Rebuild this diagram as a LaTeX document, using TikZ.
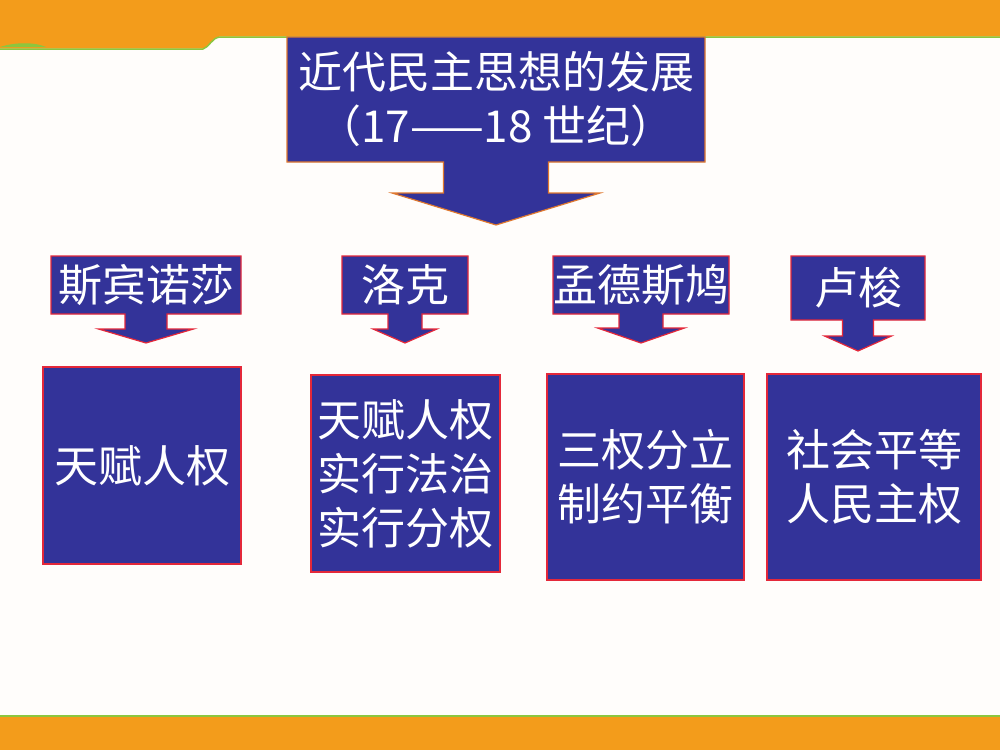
\documentclass[tikz,border=0pt]{standalone}
\usepackage{fontspec}
\setmainfont{Noto Sans CJK SC}
\usetikzlibrary{calc,backgrounds}

\definecolor{bandorange}{HTML}{F39C1B}
\definecolor{bandgreen}{HTML}{8CC63E}
\definecolor{boxblue}{HTML}{333399}
\definecolor{boxred}{HTML}{E4283A}
\definecolor{titleedge}{HTML}{E0782E}
\definecolor{pagewhite}{HTML}{FFFDFB}

\tikzset{
  whitetext/.style={text=white,font=\fontsize{44}{54}\selectfont,inner sep=0pt,outer sep=0pt,align=center},
  namebox/.style={whitetext,minimum height=58pt},
  ideabox/.style={whitetext,fill=boxblue,draw=boxred,line width=1.2pt,minimum height=197pt},
}

\newcommand{\downcallout}[6]{%
  \draw[#6,fill=boxblue,line width=1.2pt,line join=miter]
    (#1.north west) -- (#1.north east) -- (#1.south east)
    -- ($(#1.south)+(#2,0)$) -- ($(#1.south)+(#2,#4)$)
    -- ($(#1.south)+(#3,#4)$) -- ($(#1.south)+(0,{#4+#5})$)
    -- ($(#1.south)+(-#3,#4)$) -- ($(#1.south)+(-#2,#4)$)
    -- ($(#1.south)+(-#2,0)$) -- (#1.south west) -- cycle;}

\begin{document}
\begin{tikzpicture}[x=1pt,y=-1pt]
\useasboundingbox (0,0) rectangle (1000,750);
\node[whitetext,minimum width=418pt,minimum height=125pt] (title) at (496,99.5) {近代民主思想的发展\\（17——18 世纪）};
\node[namebox,minimum width=190pt] (spinoza) at (146,285) {斯宾诺莎};
\node[namebox,minimum width=126pt] (locke) at (405,285) {洛克};
\node[namebox,minimum width=174pt] (montesquieu) at (641,285) {孟德斯鸠};
\node[namebox,minimum width=134pt,minimum height=64pt] (rousseau) at (858,288) {卢梭};
\node[ideabox,minimum width=198pt] (spinozaidea) at (142,465.5) {天赋人权};
\node[ideabox,minimum width=189pt] (lockeidea) at (405.5,473.5) {天赋人权\\实行法治\\实行分权};
\node[ideabox,minimum width=197pt,minimum height=206pt] (montesquieuidea) at (645.5,477) {三权分立\\制约平衡};
\node[ideabox,minimum width=214pt,minimum height=206pt] (rousseauidea) at (874,477) {社会平等\\人民主权};
\begin{scope}[on background layer]
\fill[pagewhite] (0,0) rectangle (1000,750);
\fill[bandorange] (0,0) -- (1000,0) -- (1000,36.5) -- (220,36.5) .. controls (212,37) and (209,47) .. (203,48.5) -- (0,48.5) -- cycle;
\draw[bandgreen,line width=1.5pt] (0,49) -- (203,49) .. controls (209,47.5) and (212,37.5) .. (220,37) -- (1000,37);
\fill[bandgreen] (0,47) .. controls (15,42) and (35,42) .. (46,47) -- cycle;
\fill[bandorange] (0,717) rectangle (1000,750);
\draw[bandgreen,line width=2pt] (0,716) -- (1000,716);
\downcallout{title}{52.5}{104}{31}{32}{titleedge}
\downcallout{spinoza}{21}{47.5}{15}{14}{boxred}
\downcallout{locke}{17}{32}{15}{14}{boxred}
\downcallout{montesquieu}{22}{43.5}{14}{15}{boxred}
\downcallout{rousseau}{15.5}{33.5}{16}{15}{boxred}
\end{scope}
\end{tikzpicture}
\end{document}
